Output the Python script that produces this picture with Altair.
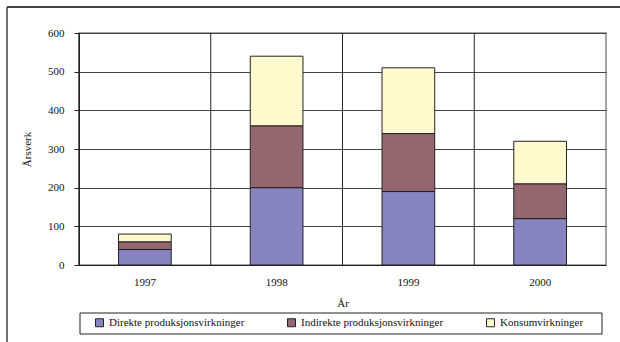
import altair as alt
import pandas as pd

years = ["1997", "1998", "1999", "2000"]
series = ["Direkte produksjonsvirkninger", "Indirekte produksjonsvirkninger", "Konsumvirkninger"]
direkte = [40, 200, 190, 120]
indirekte = [20, 160, 150, 90]
konsum = [20, 180, 170, 110]
colors = ["#8884C0", "#946670", "#FFFACD"]

rows = []
for i, y in enumerate(years):
    for k, (name, vals) in enumerate(zip(series, [direkte, indirekte, konsum])):
        rows.append({"År": y, "Serie": name, "Årsverk": vals[i], "rekkefolge": k})
df = pd.DataFrame(rows)

W, H = 527, 232
FONT = "Liberation Serif"
TXT = "#111111"

x_scale = alt.Scale(domain=years, paddingInner=0, paddingOuter=0)

bars = alt.Chart(df).mark_bar(
    width={"band": 0.4}, stroke="#222222", strokeWidth=1
).encode(
    x=alt.X("År:N", scale=x_scale, sort=years,
            axis=alt.Axis(title="År", labelAngle=0, ticks=False, labelPadding=11,
                          titlePadding=10, domainColor="#222222", grid=False,
                          labelFont=FONT, titleFont=FONT, labelFontSize=11,
                          titleFontSize=11, titleFontWeight="normal",
                          labelColor=TXT, titleColor=TXT)),
    y=alt.Y("Årsverk:Q", stack="zero",
            scale=alt.Scale(domain=[0, 600], nice=False),
            axis=alt.Axis(title="Årsverk", values=[0, 100, 200, 300, 400, 500, 600],
                          tickSize=5, tickColor="#222222", labelPadding=10,
                          titlePadding=15, domainColor="#222222",
                          grid=True, gridColor="#444444", gridWidth=1,
                          labelFont=FONT, titleFont=FONT, labelFontSize=11,
                          titleFontSize=11, titleFontWeight="normal",
                          labelColor=TXT, titleColor=TXT)),
    color=alt.Color("Serie:N", scale=alt.Scale(domain=series, range=colors),
                    legend=alt.Legend(title=None, orient="none", direction="horizontal",
                                      legendX=15, legendY=284, symbolType="square",
                                      symbolSize=64, symbolStrokeColor="#222222",
                                      symbolStrokeWidth=1, symbolOpacity=1,
                                      labelFont=FONT, labelFontSize=11, labelColor=TXT,
                                      columnPadding=40, labelOffset=4)),
    order=alt.Order("rekkefolge:Q", sort="ascending"),
)

# vertical separators between the year slots
sep = alt.Chart(pd.DataFrame({"År": years})).mark_rule(color="#222222", strokeWidth=1).encode(
    x=alt.X("År:N", bandPosition=0, scale=x_scale, sort=years),
    y=alt.value(0), y2=alt.value(H),
)

# legend box and outer frame
legend_box = alt.Chart(pd.DataFrame({"a": [0]})).mark_rect(
    fill=None, stroke="#222222", strokeWidth=1
).encode(x=alt.value(1), x2=alt.value(523), y=alt.value(280), y2=alt.value(301))

frame_top = alt.Chart(pd.DataFrame({"a": [0]})).mark_rule(color="#444444", strokeWidth=2).encode(
    x=alt.value(-72), x2=alt.value(W + 30), y=alt.value(-26))
frame_left = alt.Chart(pd.DataFrame({"a": [0]})).mark_rule(color="#444444", strokeWidth=1.5).encode(
    x=alt.value(-72), y=alt.value(-26), y2=alt.value(H + 90))

chart = alt.layer(bars, sep, legend_box, frame_top, frame_left).properties(
    width=W, height=H,
    autosize=alt.AutoSizeParams(type="none"),
    padding={"left": 79, "top": 33, "right": 14, "bottom": 77},
    background="white",
).configure(
    font=FONT
).configure_view(
    stroke="#888888", strokeWidth=1.5
)

chart.save("out.html", embed_options={"renderer": "svg", "actions": False})
